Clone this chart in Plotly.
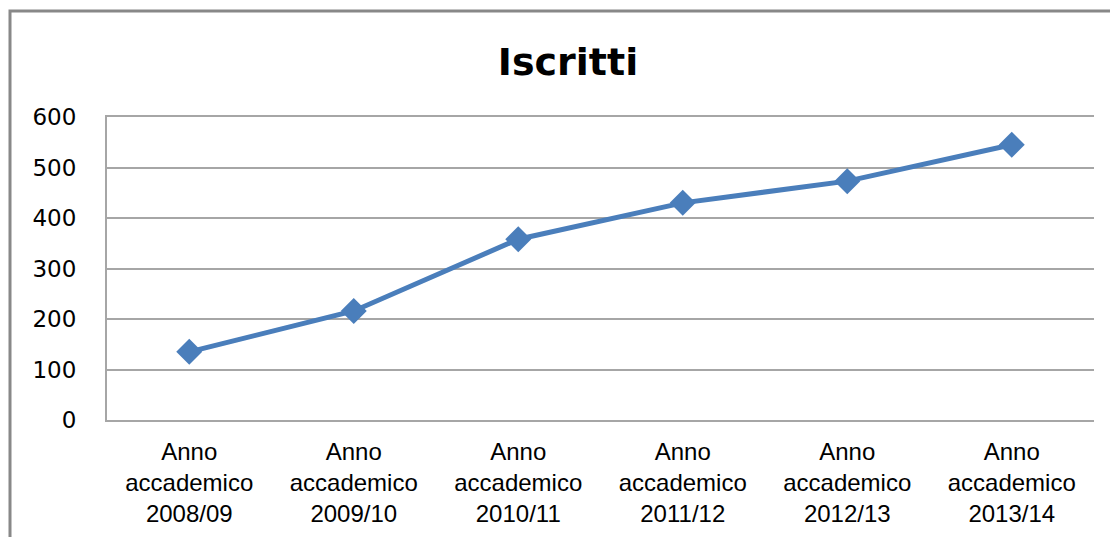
import plotly.graph_objects as go

categories = ["Anno<br>accademico<br>2008/09", "Anno<br>accademico<br>2009/10",
              "Anno<br>accademico<br>2010/11", "Anno<br>accademico<br>2011/12",
              "Anno<br>accademico<br>2012/13", "Anno<br>accademico<br>2013/14"]
iscritti = [135, 216, 358, 430, 473, 545]
y_ticks = [0, 100, 200, 300, 400, 500, 600]

W, H = 1118, 537
OFF = 8  # default page body margin
L, T = 107 - OFF, 117 - OFF
R = W - (1094 - OFF)
B = H - (420 - OFF)
pw, ph = W - L - R, H - T - B

fig = go.Figure()
fig.add_trace(go.Scatter(
    x=categories, y=iscritti, mode="lines+markers",
    line=dict(color="#4a7ebb", width=5),
    marker=dict(symbol="diamond", size=20, color="#4a7ebb"),
    showlegend=False,
))

grid = "#a6a6a6"
fig.update_layout(
    width=W, height=H,
    margin=dict(l=L, r=R, t=T, b=B),
    paper_bgcolor="white", plot_bgcolor="white",
    title=dict(text="<b>Iscritti</b>", x=(568 - OFF) / W, xanchor="center",
               y=1 - (62 - OFF) / H, yanchor="middle",
               font=dict(family="DejaVu Sans", size=38, color="black")),
    xaxis=dict(range=[-0.5, len(categories) - 0.5], showgrid=False, showline=True,
               linecolor=grid, linewidth=2, mirror=True,
               ticks="", tickfont=dict(family="Liberation Sans", size=24, color="black"),
               ticklabelstandoff=9),
    yaxis=dict(range=[0, 600], tickvals=y_ticks, showgrid=True, gridcolor=grid, gridwidth=2,
               showline=True, linecolor=grid, linewidth=2, zeroline=False,
               ticks="", ticklabelstandoff=24,
               tickfont=dict(family="DejaVu Sans", size=23, color="black")),
    shapes=[dict(type="rect", xref="paper", yref="paper",
                 x0=(10 - OFF - L) / pw, x1=1.2, y0=-0.6, y1=1 + (T - (11 - OFF)) / ph,
                 line=dict(color="#888888", width=3), fillcolor="rgba(0,0,0,0)", layer="below")],
)

fig.write_html("out.html")
